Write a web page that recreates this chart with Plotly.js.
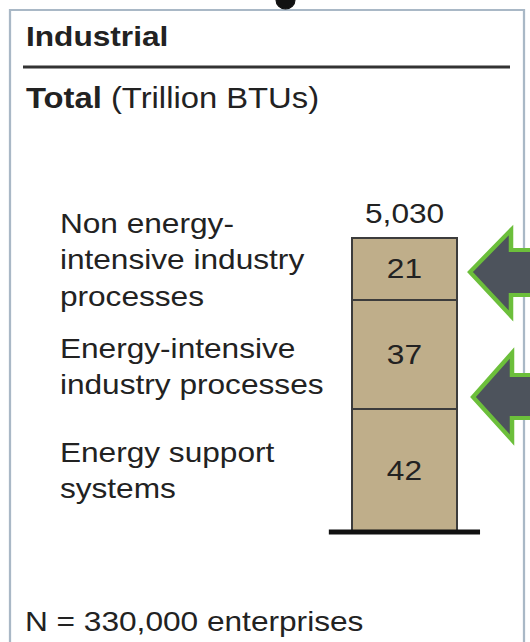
<!DOCTYPE html>
<html><head><meta charset="utf-8">
<script src="https://cdn.plot.ly/plotly-3.0.1.min.js"></script>
<style>
html,body{margin:0;padding:0;background:#fff;overflow:hidden;width:530px;height:642px;}
#chart{width:469px;height:642px;transform:scaleX(1.130064);transform-origin:0 0;}
</style>
</head><body><div id="chart"></div>
<script>
// ---- data ----
const category = ['Industrial'];
const segmentLabels = ['Energy support<br>systems', 'Energy-intensive<br>industry processes', 'Non energy-<br>intensive industry<br>processes'];
const segmentShares = [42, 37, 21];
const totalBTU = 5030;
const titleText = '<b>Industrial</b>';
const subtitleText = '<b>Total</b> (Trillion BTUs)';
const footnoteText = 'N = 330,000 enterprises';

// ---- layout helpers (coordinates below are in final 530x642 picture pixels) ----
const W = 530, H = 642;
const PW = 469; // plotly width, horizontally stretched to 530 by CSS (the reference is stretched)
const FONT = 'Liberation Sans, Arial, sans-serif';
const TXT = '#222222';
const px = x => x / W, py = y => 1 - y / H;
const pathOf = pts => 'M ' + pts.map(p => px(p[0]) + ' ' + py(p[1])).join(' L ') + ' Z';

const traces = segmentShares.map((v, i) => ({
  type: 'bar', x: category, y: [v], text: [String(v)],
  textposition: 'inside', insidetextanchor: 'middle',
  textfont: {family: FONT, size: 28, color: TXT},
  marker: {color: '#bfae8a', line: {color: '#3c3c3c', width: 2}},
  width: 0.5, hoverinfo: 'none', showlegend: false
}));

const labelShift = [0, -12, 9];
const annotations = [];
let cum = 0;
segmentShares.forEach((v, i) => {
  annotations.push({
    text: segmentLabels[i], xref: 'paper', x: px(58), yref: 'y', y: cum + v / 2,
    xanchor: 'left', yanchor: 'middle', align: 'left', yshift: labelShift[i],
    showarrow: false, font: {family: FONT, size: 28, color: TXT}
  });
  cum += v;
});
annotations.push({
  text: totalBTU.toLocaleString('en-US'), xref: 'x', x: category[0], yref: 'y', y: cum,
  xanchor: 'center', yanchor: 'bottom', yshift: 7, showarrow: false,
  font: {family: FONT, size: 28, color: TXT}
});
annotations.push({text: titleText, xref: 'paper', yref: 'paper', x: px(24), y: py(37),
  xanchor: 'left', yanchor: 'middle', showarrow: false, font: {family: FONT, size: 28, color: TXT}});
annotations.push({text: subtitleText, xref: 'paper', yref: 'paper', x: px(24), y: py(98),
  xanchor: 'left', yanchor: 'middle', showarrow: false, font: {family: FONT, size: 29, color: TXT}});
annotations.push({text: footnoteText, xref: 'paper', yref: 'paper', x: px(23), y: py(621),
  xanchor: 'left', yanchor: 'middle', showarrow: false, font: {family: FONT, size: 28, color: TXT}});

const shapes = [
  {type: 'rect', xref: 'paper', yref: 'paper', x0: px(10), y0: py(10), x1: px(524), y1: py(660),
   line: {color: '#a9b8c6', width: 2}, fillcolor: 'rgba(0,0,0,0)'},
  {type: 'circle', xref: 'paper', yref: 'paper', x0: px(276), y0: py(-9), x1: px(295), y1: py(9),
   fillcolor: '#111', line: {color: '#111', width: 1}},
  {type: 'line', xref: 'paper', yref: 'paper', x0: px(23), y0: py(67), x1: px(510), y1: py(67),
   line: {color: '#333', width: 3}},
  {type: 'line', xref: 'x', yref: 'y', x0: -0.36, x1: 0.36, y0: 0, y1: 0,
   line: {color: '#111', width: 5}, layer: 'above'},
  {type: 'path', xref: 'paper', yref: 'paper',
   path: pathOf([[470, 272], [511, 230], [511, 250], [540, 250], [540, 295], [511, 295], [511, 316]]),
   fillcolor: '#4d535c', line: {color: '#6cbf3b', width: 4}},
  {type: 'path', xref: 'paper', yref: 'paper',
   path: pathOf([[473, 397], [512, 353], [512, 375], [540, 375], [540, 418], [512, 418], [512, 440]]),
   fillcolor: '#4d535c', line: {color: '#6cbf3b', width: 4}}
];

const layout = {
  width: PW, height: H, margin: {l: 0, r: 0, t: 0, b: 0},
  paper_bgcolor: '#fff', plot_bgcolor: '#fff', barmode: 'stack',
  xaxis: {type: 'category', range: [-1.926, 0.598], visible: false, fixedrange: true},
  yaxis: {range: [-37.41, 180.95], visible: false, fixedrange: true},
  annotations: annotations, shapes: shapes, showlegend: false,
  font: {family: FONT, color: TXT}
};
Plotly.newPlot('chart', traces, layout, {staticPlot: true, displayModeBar: false});
</script></body></html>
